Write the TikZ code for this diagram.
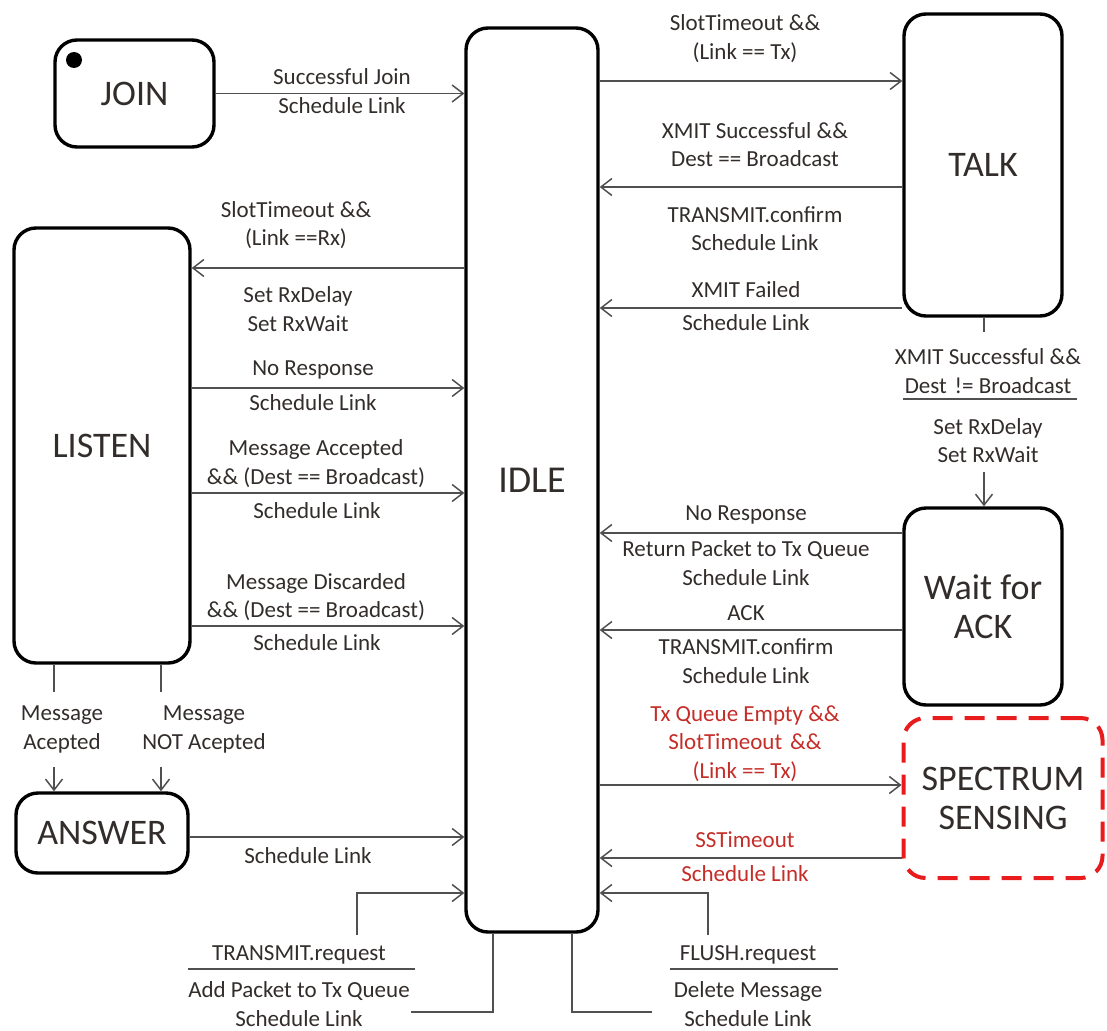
\documentclass[tikz,border=0pt]{standalone}
\usepackage{fontspec}
\setmainfont{Carlito}
\usetikzlibrary{arrows.meta}
\definecolor{txt}{RGB}{50,45,43}
\definecolor{lncol}{RGB}{80,80,80}
\definecolor{rtxt}{RGB}{196,45,40}
\definecolor{rbox}{RGB}{232,28,28}
\begin{document}
\begin{tikzpicture}[x=1pt,y=-1pt,
 state/.style={draw=black,line width=3.4pt,rounded corners=22pt,inner sep=0pt,font=\fontsize{36}{39}\selectfont,text=txt,align=center},
 lbl/.style={font=\fontsize{23}{28.5}\selectfont,text=txt,align=center,inner sep=0pt},
 rlbl/.style={lbl,text=rtxt},
 arr/.style={draw=lncol,line width=1.5pt,-{Straight Barb[length=11pt,width=17pt]}},
 plain/.style={draw=lncol,line width=1.5pt}]
\useasboundingbox (0,0) rectangle (1107,1030);
% states
\node[state,minimum width=159pt,minimum height=107pt] (JOIN) at (134.5,93.5) {JOIN};
\node[circle,fill=black,inner sep=0pt,minimum size=16pt] (dot) at (74,60) {};
\node[state,minimum width=132pt,minimum height=904pt,font=\fontsize{38}{40}\selectfont] (IDLE) at (532,480) {IDLE};
\node[state,minimum width=158pt,minimum height=302pt] (TALK) at (983,165) {TALK};
\node[state,minimum width=176pt,minimum height=435pt] (LISTEN) at (102,445.5) {LISTEN};
\node[state,minimum width=172pt,minimum height=80pt] (ANSWER) at (102,833) {ANSWER};
\node[state,minimum width=158pt,minimum height=197pt] (WAIT) at (983,606.5) {Wait for\\ACK};
\node[state,draw=rbox,line width=4pt,dash pattern=on 20pt off 12pt,minimum width=199pt,minimum height=160pt] (SS) at (1003,798) {SPECTRUM\\SENSING};
% connectors
\draw[arr] (JOIN.east) -- (JOIN.east -| IDLE.west);
\draw[arr] (IDLE.east |- 0,81) -- (TALK.west |- 0,81);
\draw[arr] (TALK.west |- 0,187) -- (IDLE.east |- 0,187);
\draw[arr] (TALK.west |- 0,308) -- (IDLE.east |- 0,308);
\draw[arr] (IDLE.west |- 0,268) -- (LISTEN.east |- 0,268);
\draw[arr] (LISTEN.east |- 0,388) -- (IDLE.west |- 0,388);
\draw[arr] (LISTEN.east |- 0,493) -- (IDLE.west |- 0,493);
\draw[arr] (LISTEN.east |- 0,626) -- (IDLE.west |- 0,626);
\draw[arr] (ANSWER.east |- 0,837) -- (IDLE.west |- 0,837);
\draw[arr] (WAIT.west |- 0,533) -- (IDLE.east |- 0,533);
\draw[arr] (WAIT.west |- 0,630) -- (IDLE.east |- 0,630);
\draw[arr] (IDLE.east |- 0,785) -- (SS.west |- 0,785);
\draw[arr] (SS.west |- 0,858) -- (IDLE.east |- 0,858);
% LISTEN -> ANSWER
\draw[plain] (LISTEN.south -| 54,0) -- (54,692);
\draw[arr] (54,767) -- (ANSWER.north -| 54,0);
\draw[plain] (LISTEN.south -| 161,0) -- (161,692);
\draw[arr] (161,767) -- (ANSWER.north -| 161,0);
% TALK -> WAIT
\draw[plain] (TALK.south -| 984,0) -- (984,332);
\draw[arr] (984,472) -- (WAIT.north -| 984,0);
\draw[plain] (903,399) -- (1077,399);
% bottom
\draw[arr] (357,935) |- (IDLE.west |- 0,893);
\draw[plain] (IDLE.south -| 493,0) |- (411,1012);
\draw[arr] (708,935) |- (IDLE.east |- 0,893);
\draw[plain] (IDLE.south -| 572,0) |- (652,1012);
\draw[plain] (188,969) -- (415,969);
\draw[plain] (670,969) -- (838,969);
% labels
\node[lbl] (l1a) at (342,77) {Successful Join};
\node[lbl] (l1b) at (342,106) {Schedule Link};
\node[lbl] (l2) at (745,38.5) {SlotTimeout \&\&\\(Link == Tx)};
\node[lbl] (l3a) at (755,144.5) {XMIT Successful \&\&\\Dest == Broadcast};
\node[lbl] (l3b) at (755,228.5) {TRANSMIT.confirm\\Schedule Link};
\node[lbl] (l4a) at (746,290) {XMIT Failed};
\node[lbl] (l4b) at (746,323) {Schedule Link};
\node[lbl] (l5a) at (296,225) {SlotTimeout \&\&\\(Link ==Rx)};
\node[lbl] (l5b) at (298,309) {Set RxDelay\\Set RxWait};
\node[lbl] (l6a) at (313,370) {No Response};
\node[lbl] (l6b) at (313,403) {Schedule Link};
\node[lbl] (l7a) at (316,463.5) {Message Accepted\\\&\& (Dest == Broadcast)};
\node[lbl] (l7b) at (317,511) {Schedule Link};
\node[lbl] (l8a) at (316,597) {Message Discarded\\\&\& (Dest == Broadcast)};
\node[lbl] (l8b) at (317,643) {Schedule Link};
\node[lbl] (l9a) at (62,729.5) {Message\\Acepted};
\node[lbl] (l9b) at (204,729.5) {Message\\NOT Acepted};
\node[lbl] (l10) at (308,856) {Schedule Link};
\node[lbl] (l11a) at (988,371) {XMIT Successful \&\&\\Dest\hspace{0.12em} != Broadcast};
\node[lbl] (l11b) at (988,440.5) {Set RxDelay\\Set RxWait};
\node[lbl] (l12a) at (746,515) {No Response};
\node[lbl] (l12b) at (746,563) {Return Packet to Tx Queue\\Schedule Link};
\node[lbl] (l13a) at (746,613) {ACK};
\node[lbl] (l13b) at (746,661) {TRANSMIT.confirm\\Schedule Link};
\node[rlbl] (l14) at (745,743.5) {Tx Queue Empty \&\&\\SlotTimeout\hspace{0.12em} \&\&\\(Link == Tx)};
\node[rlbl] (l15a) at (745,840) {SSTimeout};
\node[rlbl] (l15b) at (745,874) {Schedule Link};
\node[lbl] (l16a) at (299,955) {TRANSMIT.request};
\node[lbl] (l16b) at (299,1004) {Add Packet to Tx Queue\\Schedule Link};
\node[lbl] (l17a) at (748,955) {FLUSH.request};
\node[lbl] (l17b) at (748,1004) {Delete Message\\Schedule Link};
\end{tikzpicture}
\end{document}
